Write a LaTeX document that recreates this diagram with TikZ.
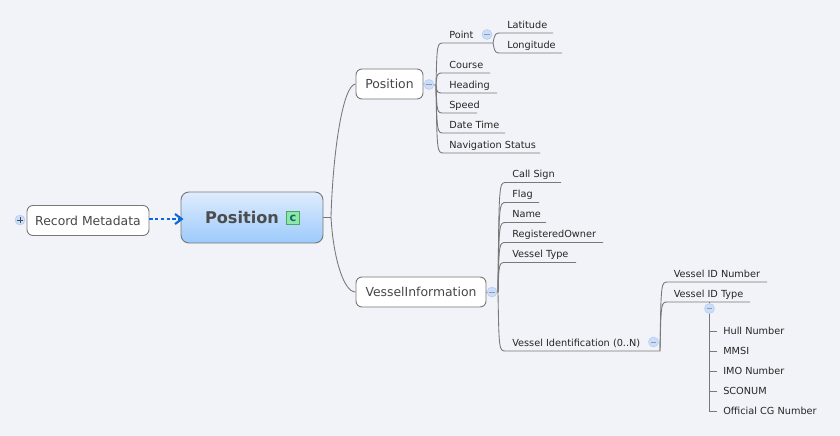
\documentclass[tikz,border=0pt]{standalone}
\usepackage{fontspec}
\setmainfont{DejaVu Sans}
\usetikzlibrary{arrows.meta,calc}
\definecolor{mapbg}{HTML}{F2F3F9}
\definecolor{mapline}{HTML}{787878}
\definecolor{mapblue}{HTML}{0A68DC}
\definecolor{maptop}{HTML}{DFECFD}
\definecolor{mapbottom}{HTML}{9CCAFB}
\definecolor{mapdotfill}{HTML}{CADDFB}
\definecolor{mapdotline}{HTML}{B4CDF2}
\definecolor{mapiconfill}{HTML}{90E6A6}
\definecolor{mapiconline}{HTML}{45A866}
\definecolor{mapicontext}{HTML}{0B6A72}
\tikzset{mapbox/.style={rectangle,rounded corners=4.5pt,draw=mapline,line width=0.7pt,fill=white,inner sep=0pt,text=black!72,font=\fontsize{9.3}{11}\selectfont},
         maproot/.style={rectangle,rounded corners=6pt,draw=mapline,line width=0.7pt,top color=maptop,bottom color=mapbottom,inner sep=0pt,text=black!70,font=\fontsize{12.1}{14}\bfseries\selectfont},
         mapleaf/.style={anchor=base west,inner sep=0pt,text=black!85,font=\fontsize{7.3}{9}\selectfont},
         mapbranch/.style={draw=mapline,line width=0.65pt},
         mapdot/.style={circle,draw=mapdotline,fill=mapdotfill,inner sep=0pt,minimum size=7.5pt,
           path picture={\draw[black!40,line width=0.5pt] ([xshift=-2pt]path picture bounding box.center)--([xshift=2pt]path picture bounding box.center);}},
         mapplus/.style={mapdot,path picture={\draw[black!70,line width=0.5pt] ([xshift=-2pt]path picture bounding box.center)--([xshift=2pt]path picture bounding box.center);
           \draw[black!70,line width=0.5pt] ([yshift=-2pt]path picture bounding box.center)--([yshift=2pt]path picture bounding box.center);}},
         mapicon/.style={rectangle,draw=mapiconline,fill=mapiconfill,inner sep=0pt,minimum size=9.5pt,text=mapicontext,font=\fontsize{8.5}{9}\bfseries\selectfont}}
\begin{document}
\begin{tikzpicture}[x=0.75pt,y=-0.75pt]
    \useasboundingbox[fill=mapbg] (0,0) rectangle (840,436);
    \node[maproot,minimum width=106.5pt,minimum height=38.25pt,text depth=0pt] (root) at (252,217.5) {\hspace{-15pt}Position};
    \node[mapicon] (rooticon) at (293,218) {c};
    \node[mapbox,minimum width=91.5pt,minimum height=22.5pt] (meta) at (88,220.5) {Record Metadata};
    \node[mapplus] (metadot) at (20,220) {};
    \node[mapbox,minimum width=50.25pt,minimum height=22.5pt] (pos) at (389.5,84) {Position};
    \node[mapbox,minimum width=97.5pt,minimum height=22.5pt] (vessel) at (421,292) {VesselInformation};
    \coordinate (metaend) at (183.5,219);
    \draw[mapblue,line width=2.2pt,dash pattern=on 2.4pt off 1.9pt,-{Straight Barb[length=5pt,width=7.5pt,line width=1.6pt]}] (meta.east |- metaend) -- (metaend);
    \coordinate (roothub) at (331,217);
    \draw[mapbranch] (root.east |- roothub) -- (roothub);
    \draw[mapbranch] (roothub) .. controls (333,150) and (343,85) .. (pos.west);
    \draw[mapbranch] (roothub) .. controls (333,255) and (343,292) .. (vessel.west);
    \coordinate (poshub) at (436,85);
    \coordinate (pointhub) at (493,43);
    \coordinate (vesselhub) at (498,292);
    \coordinate (idhub) at (660,351);
    \draw[mapbranch] (pos.east) -- (poshub);
    \draw[mapbranch] (vessel.east |- vesselhub) -- (vesselhub);
    \foreach \n/\lab/\y/\e in {point/Point/43/493,course/Course/73/490,heading/Heading/93/497,speed/Speed/113/477,date/Date Time/133/505,nav/Navigation Status/153/540}
      {\node[mapleaf] (\n) at (449,\y-5) {\lab}; \coordinate (\n-end) at (\e,\y);
       \draw[mapbranch] (poshub) .. controls ($(poshub |- \n-end)+(1,0)$) and ($(poshub |- \n-end)+(1,0)$) .. ($(poshub |- \n-end)+(8,0)$) -- (\n-end);}
    \foreach \n/\lab/\y/\e in {lat/Latitude/33/553,lon/Longitude/53/562}
      {\node[mapleaf] (\n) at (507,\y-5) {\lab}; \coordinate (\n-end) at (\e,\y);
       \draw[mapbranch] (pointhub) .. controls ($(pointhub |- \n-end)+(2,0)$) and ($(pointhub |- \n-end)+(2,0)$) .. ($(pointhub |- \n-end)+(9,0)$) -- (\n-end);}
    \foreach \n/\lab/\y/\e in {call/Call Sign/182.5/561,flag/Flag/202.5/539,name/Name/222.5/546,owner/RegisteredOwner/242.5/603,type/Vessel Type/262.5/576,ident/Vessel Identification (0..N)/351/660}
      {\node[mapleaf] (\n) at (512,\y-5) {\lab}; \coordinate (\n-end) at (\e,\y);
       \draw[mapbranch] (vesselhub) .. controls ($(vesselhub |- \n-end)+(1,0)$) and ($(vesselhub |- \n-end)+(1,0)$) .. ($(vesselhub |- \n-end)+(8,0)$) -- (\n-end);}
    \foreach \n/\lab/\y/\e in {idnum/Vessel ID Number/282/767,idtype/Vessel ID Type/302/750}
      {\node[mapleaf] (\n) at (673.5,\y-5) {\lab}; \coordinate (\n-end) at (\e,\y);
       \draw[mapbranch] (idhub) .. controls ($(idhub |- \n-end)+(1,0)$) and ($(idhub |- \n-end)+(1,0)$) .. ($(idhub |- \n-end)+(8,0)$) -- (\n-end);}
    \node[mapdot] (posdot) at (429,84.5) {};
    \node[mapdot] (pointdot) at (487,34.5) {};
    \node[mapdot] (vesseldot) at (492,292) {};
    \node[mapdot] (iddot) at (653.5,342) {};
    \node[mapdot] (typedot) at (709.5,308.5) {};
    \coordinate (typetop) at (709.5,302);
    \draw[mapbranch] (typetop) -- (typedot.north);
    \foreach \n/\lab/\y in {hull/Hull Number/331,mmsi/MMSI/351,imo/IMO Number/371,sconum/SCONUM/391,cg/Official CG Number/411}
      {\node[mapleaf] (\n) at (723,\y+3.5) {\lab}; \coordinate (\n-end) at (717,\y);
       \draw[mapbranch] (typedot.south) -- (typedot |- \n-end) -- (\n-end);}
  \end{tikzpicture}
\end{document}
